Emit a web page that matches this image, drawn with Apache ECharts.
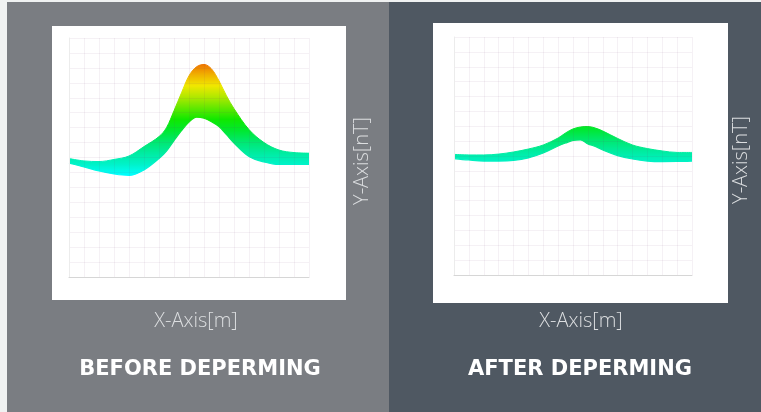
<!DOCTYPE html>
<html>
<head>
<meta charset="utf-8">
<script src="https://cdn.jsdelivr.net/npm/echarts@6/dist/echarts.min.js"></script>
<style>
html,body{margin:0;padding:0;background:#f0f2f2;}
#c{width:761px;height:412px;}
</style>
</head>
<body>
<div id="c"></div>
<script>
// x positions (grid units, 0..16)
var xPos = [0,1,2,3,4,5,6,6.5,7,7.5,8,8.5,9,9.5,10,10.5,11,12,13,14,15,16];
// BEFORE deperming: band envelope (lower / upper)
var beforeLower = [7.62,7.37,7.10,6.90,6.80,7.17,7.93,8.43,9.13,9.80,10.37,10.70,10.63,10.40,10.07,9.53,8.97,8.07,7.70,7.53,7.53,7.53];
var beforeUpper = [7.93,7.77,7.73,7.87,8.10,8.73,9.40,10.00,11.13,12.33,13.47,14.07,14.23,13.93,13.13,12.13,11.27,9.87,9.00,8.50,8.33,8.29];
// AFTER deperming x positions
var xPosAfter = [0,1,2,3,4,5,6,7,7.5,8,8.5,9,9.5,10,11,12,13,14,15,16];
var afterLower = [7.83,7.73,7.66,7.66,7.70,7.87,8.20,8.67,8.87,9.04,9.08,8.81,8.64,8.40,8.03,7.80,7.66,7.62,7.63,7.66];
var afterUpper = [8.11,8.07,8.07,8.13,8.27,8.47,8.74,9.21,9.55,9.82,9.95,9.98,9.88,9.68,9.18,8.74,8.50,8.34,8.24,8.24];

var titles = ['BEFORE DEPERMING','AFTER DEPERMING'];
var xName = 'X-Axis[m]', yName = 'Y-Axis[nT]';

function pairs(xs, ys){ return xs.map(function(x,i){return [x, ys[i]];}); }

var chart = echarts.init(document.getElementById('c'), null, {renderer:'canvas'});

function axisX(idx){
  return {gridIndex: idx, type:'value', min:0, max:16, interval:1, z:10,
    axisLabel:{show:false}, axisTick:{show:false},
    axisLine:{show:true, lineStyle:{color:'#d6d6d6', width:1}},
    splitLine:{show:true, lineStyle:{color:'rgba(120,60,120,0.07)', width:1}}};
}
function axisY(idx){
  return {gridIndex: idx, type:'value', min:0, max:16, interval:1, z:10,
    axisLabel:{show:false}, axisTick:{show:false},
    axisLine:{show:true, lineStyle:{color:'#ececec', width:1}},
    splitLine:{show:true, lineStyle:{color:'rgba(120,60,120,0.07)', width:1}}};
}
function bandSeries(idx, xs, lo, up){
  return [
    // upper envelope, filled down to the axis with the value gradient
    {type:'line', xAxisIndex:idx, yAxisIndex:idx, smooth:0.35,
     showSymbol:false, silent:true, lineStyle:{width:1},
     areaStyle:{opacity:1, origin:'start'}, data: pairs(xs, up), z:2},
    // lower envelope, masks area below band
    {type:'line', xAxisIndex:idx, yAxisIndex:idx, smooth:0.35,
     showSymbol:false, silent:true, lineStyle:{width:1.2},
     areaStyle:{opacity:1, origin:'start', color:'#ffffff'}, data: pairs(xs, lo), z:3}
  ];
}

var txtLight = {fill:'#dcdee0', fontSize:20, fontFamily:'Open Sans', fontWeight:300};
var txtTitle = {fill:'#ffffff', fontSize:21, fontFamily:'DejaVu Sans', fontWeight:'bold'};

var option = {
  animation:false,
  backgroundColor:'#f0f2f2',
  graphic:[
    {type:'rect', shape:{x:7,y:2,width:382,height:410}, style:{fill:'#7a7d82'}, z:-10},
    {type:'rect', shape:{x:389,y:2,width:372,height:410}, style:{fill:'#4f5862'}, z:-10},
    {type:'rect', shape:{x:52,y:26,width:294,height:274}, style:{fill:'#ffffff'}, z:-9},
    {type:'rect', shape:{x:433,y:23,width:295,height:280}, style:{fill:'#ffffff'}, z:-9},
    {type:'text', x:196, y:321, style:Object.assign({text:xName, align:'center', verticalAlign:'middle'}, txtLight)},
    {type:'text', x:581, y:321, style:Object.assign({text:xName, align:'center', verticalAlign:'middle'}, txtLight)},
    {type:'text', x:362, y:161, rotation:Math.PI/2, style:Object.assign({text:yName, align:'center', verticalAlign:'middle'}, txtLight)},
    {type:'text', x:741, y:160, rotation:Math.PI/2, style:Object.assign({text:yName, align:'center', verticalAlign:'middle'}, txtLight)},
    {type:'text', x:200, y:370, style:Object.assign({text:titles[0], align:'center', verticalAlign:'middle'}, txtTitle)},
    {type:'text', x:580, y:370, style:Object.assign({text:titles[1], align:'center', verticalAlign:'middle'}, txtTitle)}
  ],
  grid:[
    {left:69, top:38, width:240, height:239},
    {left:454, top:37, width:238, height:238}
  ],
  xAxis:[axisX(0), axisX(1)],
  yAxis:[axisY(0), axisY(1)],
  visualMap:{
    show:false, type:'continuous', dimension:1, seriesIndex:[0,1,2,3],
    min:6.8, max:14.3,
    inRange:{color:['#00ffff','#00f2c8','#00eca0','#00e870','#00e830','#10e800','#60e800','#b0e800','#f0e800','#f0b000','#ee7000']}
  },
  series: bandSeries(0, xPos, beforeLower, beforeUpper).concat(bandSeries(1, xPosAfter, afterLower, afterUpper))
};
chart.setOption(option);
</script>
</body>
</html>
